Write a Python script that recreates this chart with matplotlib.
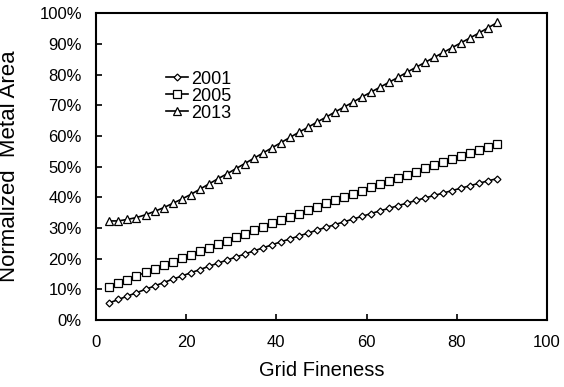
import numpy as np
import matplotlib
matplotlib.use("Agg")
import matplotlib.pyplot as plt
from matplotlib.ticker import PercentFormatter

plt.rcParams["font.family"] = ["Liberation Sans", "DejaVu Sans"]

# grid fineness (x) and normalized metal area in percent
fineness = list(range(3, 90, 2))

area_2001 = [5.6, 6.7, 7.8, 8.9, 10.0, 11.1, 12.2, 13.3, 14.3, 15.4, 16.4,
             17.5, 18.5, 19.5, 20.5, 21.5, 22.5, 23.5, 24.5, 25.5, 26.4, 27.4,
             28.3, 29.3, 30.2, 31.1, 32.0, 32.9, 33.8, 34.7, 35.6, 36.4, 37.3,
             38.1, 39.0, 39.8, 40.6, 41.4, 42.2, 43.0, 43.8, 44.6, 45.4, 46.1]

area_2005 = [10.8, 12.0, 13.2, 14.4, 15.5, 16.7, 17.9, 19.0, 20.2, 21.3, 22.5,
             23.6, 24.8, 25.9, 27.0, 28.1, 29.2, 30.3, 31.5, 32.5, 33.6, 34.7,
             35.8, 36.9, 38.0, 39.0, 40.1, 41.1, 42.2, 43.2, 44.3, 45.3, 46.3,
             47.4, 48.4, 49.4, 50.4, 51.4, 52.4, 53.4, 54.4, 55.4, 56.4, 57.3]

area_2013 = [32.3, 32.3, 32.8, 33.4, 34.3, 35.4, 36.6, 38.0, 39.4, 40.9, 42.6,
             44.3, 46.0, 47.6, 49.3, 51.0, 52.7, 54.4, 56.1, 57.8, 59.5, 61.2,
             62.8, 64.5, 66.1, 67.8, 69.4, 71.0, 72.7, 74.3, 75.9, 77.5, 79.1,
             80.8, 82.4, 84.0, 85.6, 87.2, 88.8, 90.4, 92.0, 93.6, 95.3, 97.0]

fig = plt.figure(figsize=(5.64, 3.87), dpi=100)
ax = fig.add_axes([0.170, 0.173, 0.800, 0.793])

ax.plot(fineness, area_2001, color="black", lw=1.2, marker="D", ms=3.5,
        mfc="white", mec="black", mew=0.9, label="2001")
ax.plot(fineness, area_2005, color="black", lw=1.2, marker="s", ms=5.5,
        mfc="white", mec="black", mew=0.9, label="2005")
ax.plot(fineness, area_2013, color="black", lw=1.2, marker="^", ms=6,
        mfc="white", mec="black", mew=0.9, label="2013")

ax.set_xlim(0, 100)
ax.set_ylim(0, 100)
ax.set_xticks(range(0, 101, 20))
ax.set_yticks(range(0, 101, 10))
ax.yaxis.set_major_formatter(PercentFormatter(100, decimals=0))

for s in ax.spines.values():
    s.set_linewidth(1.5)
ax.tick_params(axis="both", direction="in", length=4, width=1.2, labelsize=12)
ax.tick_params(axis="y", pad=10)
ax.tick_params(axis="x", pad=11)

ax.set_xlabel("Grid Fineness", fontsize=14.5, labelpad=8)
ax.set_ylabel("Normalized  Metal Area", fontsize=16)
ax.yaxis.set_label_coords(-0.168, 0.5)

ax.legend(loc="center", bbox_to_anchor=(0.228, 0.73), frameon=False,
          fontsize=13, handlelength=1.2, handletextpad=0.2, labelspacing=0.0,
          borderpad=0)

fig.savefig("out.png", dpi=100)
